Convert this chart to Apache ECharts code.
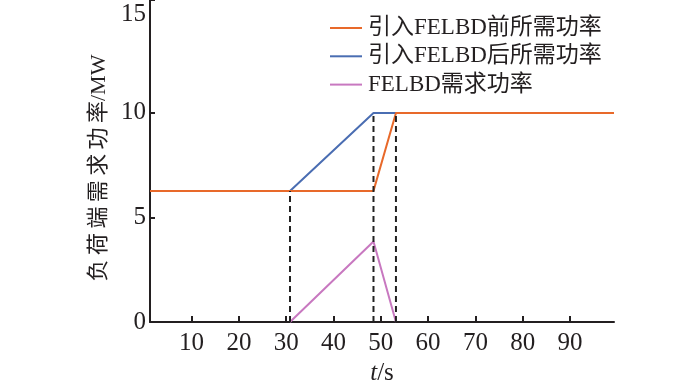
<!DOCTYPE html>
<html>
<head>
<meta charset="utf-8">
<script src="https://cdn.jsdelivr.net/npm/echarts@6/dist/echarts.min.js"></script>
<style>html,body{margin:0;padding:0;background:#fff}#c{width:700px;height:380px}</style>
</head>
<body>
<div id="c"></div>
<script>
// ---- data ----
var seriesNames = ['引入FELBD前所需功率', '引入FELBD后所需功率', 'FELBD需求功率'];
var tBefore = [1.2, 48.45, 53.2, 99.3];
var pBefore = [6.27, 6.27, 10, 10];
var tAfter = [30.8, 48.45, 53.2];
var pAfter = [6.27, 10, 10];
var tFelbd = [30.8, 48.45, 53.2];
var pFelbd = [0, 3.85, 0];
var tGuide = [30.8, 48.45, 53.2];
var pGuideTop = [6.27, 10, 10];
var xTicks = [10, 20, 30, 40, 50, 60, 70, 80, 90];
var yTicks = [0, 5, 10, 15];
var xRange = [1.2, 99.3];
var yRange = [0, 15.4];
var yName = '负\u2009荷\u2009端\u2009需\u2009求\u2009功\u2009率/MW';

function pairs(xs, ys) { return xs.map(function (x, i) { return [x, ys[i]]; }); }

var FONT = '"Liberation Serif", "Noto Sans CJK SC", serif';
var AX = '#231f20';

var guideSeries = tGuide.map(function (x, i) {
  return {
    type: 'line', name: 'guide' + i, symbol: 'none', silent: true, z: 5,
    data: [[x, 0], [x, pGuideTop[i]]],
    lineStyle: { color: '#222', width: 2, type: [6, 4] }
  };
});

var chart = echarts.init(document.getElementById('c'), null, { renderer: 'canvas' });
chart.setOption({
  backgroundColor: '#ffffff',
  animation: false,
  textStyle: { fontFamily: FONT },
  grid: { left: 150, right: 86, top: 0, bottom: 58, containLabel: false, outerBoundsMode: 'none' },
  legend: {
    orient: 'vertical', left: 325, top: 11,
    data: seriesNames,
    icon: 'rect',
    itemWidth: 32, itemHeight: 2, itemGap: 4.3,
    textStyle: { fontFamily: FONT, fontSize: 23, color: '#231f20', lineHeight: 24, padding: [0, 0, 0, 1] }
  },
  xAxis: {
    type: 'value', min: xRange[0], max: xRange[1],
    name: '{i|t}/s', nameLocation: 'middle', nameGap: 36,
    nameTextStyle: { fontFamily: FONT, fontSize: 25, color: AX, rich: { i: { fontStyle: 'italic', fontFamily: FONT, fontSize: 25 } } },
    axisLine: { lineStyle: { color: AX, width: 2 } },
    axisTick: { inside: true, length: 6, lineStyle: { color: AX, width: 2 }, customValues: xTicks },
    axisLabel: { customValues: xTicks, fontFamily: FONT, fontSize: 25, color: AX, margin: 9 },
    splitLine: { show: false }
  },
  yAxis: {
    type: 'value', min: yRange[0], max: yRange[1],
    name: yName, nameLocation: 'middle', nameGap: 40, nameRotate: 90,
    nameTextStyle: { fontFamily: FONT, fontSize: 22, color: AX, padding: [0, 14, 0, 0] },
    axisLine: { lineStyle: { color: AX, width: 2 } },
    axisTick: { inside: true, length: 5, lineStyle: { color: AX, width: 2 }, customValues: [0, 5, 10, yRange[1]] },
    axisLabel: {
      customValues: yTicks, fontFamily: FONT, fontSize: 25, color: AX, margin: 4,
      formatter: function (v) { return v === 15 ? '{t|' + v + '}' : String(v); },
      rich: { t: { fontFamily: FONT, fontSize: 25, color: AX, padding: [12, 0, 0, 0] } }
    },
    splitLine: { show: false }
  },
  series: [
    { type: 'line', name: seriesNames[0], symbol: 'none', data: pairs(tBefore, pBefore), z: 3,
      lineStyle: { color: '#E8692A', width: 2 }, itemStyle: { color: '#E8692A' } },
    { type: 'line', name: seriesNames[1], symbol: 'none', data: pairs(tAfter, pAfter), z: 2,
      lineStyle: { color: '#4A6DB2', width: 2 }, itemStyle: { color: '#4A6DB2' } },
    { type: 'line', name: seriesNames[2], symbol: 'none', data: pairs(tFelbd, pFelbd), z: 2,
      lineStyle: { color: '#C878C0', width: 2 }, itemStyle: { color: '#C878C0' } }
  ].concat(guideSeries)
});
</script>
</body>
</html>
